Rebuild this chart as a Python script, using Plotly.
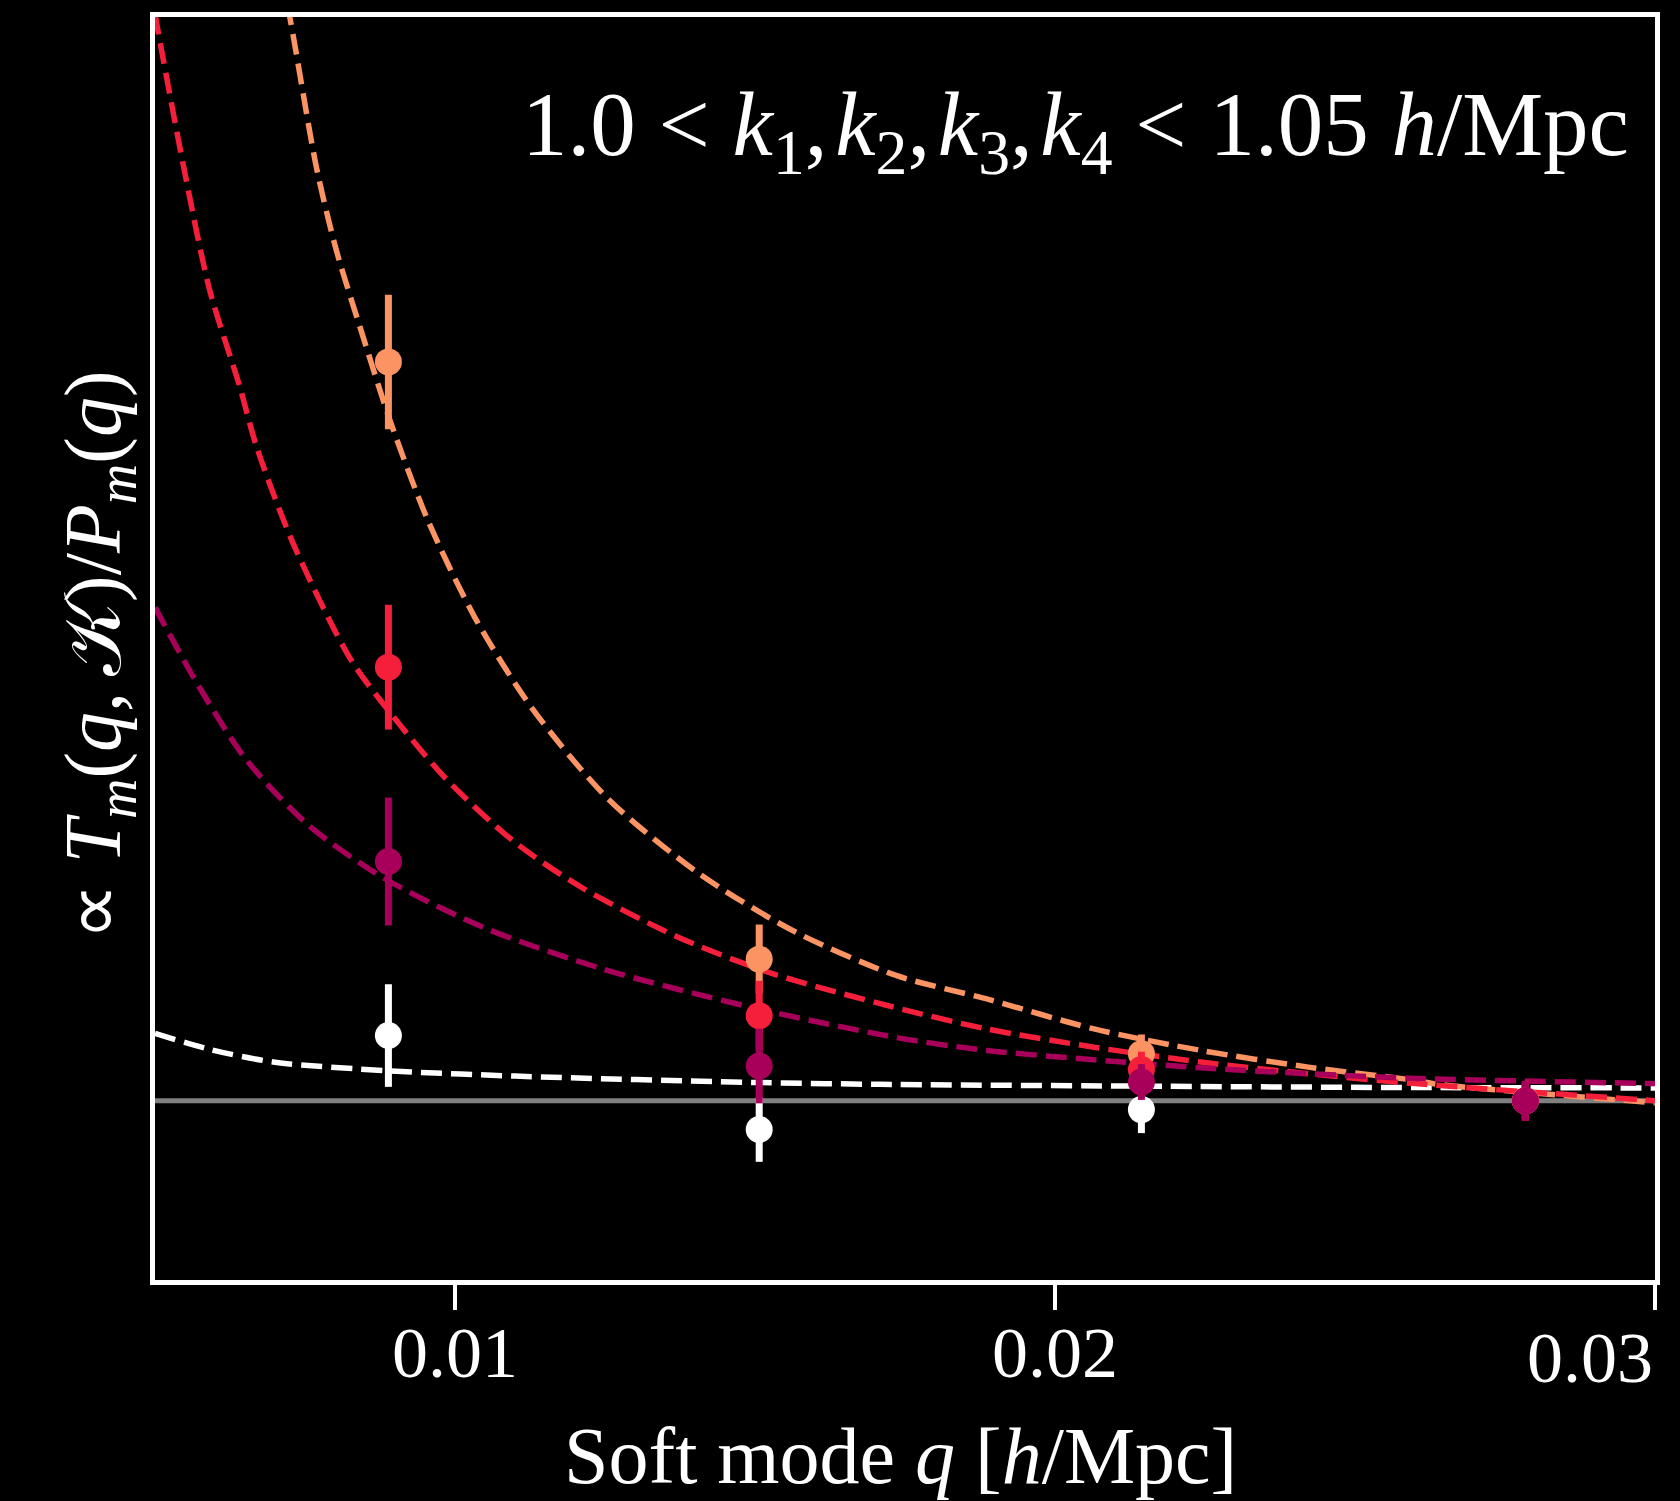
import plotly.graph_objects as go

# ---------------------------------------------------------------
# Soft-mode bin centres [h/Mpc]
q_bins = [0.00889, 0.01507, 0.02144, 0.02784]

# Measured ratios (arbitrary normalisation) with 1-sigma errors
white_y = [1.363, 0.839, 0.950, 1.000]
white_err = [0.286, 0.180, 0.131, 0.100]

orange_y = [5.119, 1.789, 1.262, 1.000]
orange_err = [0.375, 0.193, 0.107, 0.110]

red_y = [3.417, 1.474, 1.173, 1.000]
red_err = [0.348, 0.194, 0.100, 0.110]

purple_y = [2.333, 1.193, 1.104, 0.998]
purple_err = [0.357, 0.208, 0.100, 0.111]

# Model predictions sampled along q
orange_model_q = [0.007089, 0.007245, 0.007689, 0.008021, 0.008466, 0.008911,
                  0.009536, 0.010334, 0.011291, 0.012566, 0.014080, 0.015675,
                  0.017352, 0.018863, 0.020650, 0.022434, 0.024221, 0.026005,
                  0.026411, 0.030000]
orange_model_y = [7.274, 7.043, 6.206, 5.743, 5.261, 4.798,
                  4.245, 3.692, 3.185, 2.678, 2.263, 1.940,
                  1.698, 1.567, 1.400, 1.280, 1.187, 1.113,
                  1.090, 0.988]

red_model_q = [0.005000, 0.005050, 0.005466, 0.005911, 0.006411, 0.006689,
               0.007302, 0.008261, 0.008977, 0.009855, 0.010971, 0.012088,
               0.013682, 0.015277, 0.017271, 0.018863, 0.020650, 0.022434,
               0.024221, 0.026005, 0.030000]
red_model_y = [7.060, 6.965, 6.226, 5.520, 4.983, 4.650,
               4.107, 3.461, 3.139, 2.793, 2.448, 2.193,
               1.917, 1.710, 1.525, 1.400, 1.298, 1.215,
               1.150, 1.095, 1.000]

purple_model_q = [0.005000, 0.005707, 0.006505, 0.007543, 0.008818, 0.010493,
                  0.012486, 0.014879, 0.017352, 0.018863, 0.020650, 0.022434,
                  0.024221, 0.026005, 0.030000]
purple_model_y = [3.750, 3.323, 2.908, 2.540, 2.240, 1.963,
                  1.732, 1.525, 1.352, 1.280, 1.228, 1.183,
                  1.150, 1.124, 1.095]

white_model_q = [0.005000, 0.005946, 0.007000, 0.008875, 0.011000, 0.015054,
                 0.017077, 0.021839, 0.026005, 0.030000]
white_model_y = [1.375, 1.283, 1.214, 1.167, 1.137, 1.101,
                 1.091, 1.080, 1.073, 1.071]

reference_level = 1.0

x_ticks = [0.01, 0.02, 0.03]
x_tick_text = ["0.01", "0.02", "0.03"]

# ---------------------------------------------------------------
WHITE = "#ffffff"
ORANGE = "#fb9462"
RED = "#f61f3b"
PURPLE = "#a8005a"
GREY = "#808080"

DASH = "21px,9px"
SERIF = "Liberation Serif"
TICK_SIZE = 72

fig = go.Figure()

fig.add_hline(y=reference_level, line=dict(color=GREY, width=5), layer="below")

for mq, my, col in [(white_model_q, white_model_y, WHITE),
                    (orange_model_q, orange_model_y, ORANGE),
                    (red_model_q, red_model_y, RED),
                    (purple_model_q, purple_model_y, PURPLE)]:
    fig.add_trace(go.Scatter(
        x=mq, y=my, mode="lines",
        line=dict(color=col, width=5.5, dash=DASH, shape="spline", smoothing=0.8),
        hoverinfo="skip", showlegend=False,
    ))

for yy, ee, col in [(white_y, white_err, WHITE),
                    (orange_y, orange_err, ORANGE),
                    (red_y, red_err, RED),
                    (purple_y, purple_err, PURPLE)]:
    fig.add_trace(go.Scatter(
        x=q_bins, y=yy, mode="markers",
        marker=dict(color=col, size=27, line=dict(width=0)),
        error_y=dict(type="data", array=ee, visible=True,
                     color=col, thickness=7, width=0),
        showlegend=False,
    ))

# The last tick label sits flush with the right frame edge
axis_labels = list(x_tick_text[:-1]) + [""]

fig.update_layout(
    width=1680, height=1501,
    margin=dict(l=155, r=25, t=13, b=221),
    paper_bgcolor="black", plot_bgcolor="black",
    font=dict(family=SERIF, color="white"),
    xaxis=dict(
        range=[0.005, 0.03],
        tickvals=x_ticks, ticktext=axis_labels,
        ticks="outside", ticklen=25, tickwidth=4, tickcolor="white",
        ticklabelstandoff=-19,
        tickfont=dict(family=SERIF, size=TICK_SIZE, color="white"),
        showline=True, linewidth=5, linecolor="white", mirror=True,
        showgrid=False, zeroline=False,
    ),
    yaxis=dict(
        range=[0, 7.042],
        showticklabels=False, ticks="",
        showline=True, linewidth=5, linecolor="white", mirror=True,
        showgrid=False, zeroline=False,
    ),
    annotations=[
        dict(text=x_tick_text[-1], xref="x", yref="paper",
             x=x_ticks[-1], y=-0.062, xanchor="right", yanchor="middle",
             showarrow=False,
             font=dict(family=SERIF, size=TICK_SIZE, color="white")),
        dict(text="Soft mode <i>q</i> [<i>h</i>/Mpc]",
             xref="paper", yref="paper", x=0.497, y=-0.1397,
             xanchor="center", yanchor="middle", showarrow=False,
             font=dict(family=SERIF, size=80, color="white")),
        dict(text="∝ <i>T</i><sub><i>m</i></sub>(<i>q</i>,\u2009𝒦)/<i>P</i><sub><i>m</i></sub>(<i>q</i>)",
             xref="paper", yref="paper", x=-0.0373, y=0.4945,
             xanchor="center", yanchor="middle", textangle=-90, showarrow=False,
             font=dict(family=SERIF, size=80, color="white")),
        dict(text="1.0 &lt; <i>k</i><sub>1</sub>,\u200a<i>k</i><sub>2</sub>,\u200a<i>k</i><sub>3</sub>,\u200a"
                  "<i>k</i><sub>4</sub> &lt; 1.05 <i>h</i>/Mpc",
             xref="paper", yref="paper", x=0.984, y=0.910,
             xanchor="right", yanchor="middle", showarrow=False,
             font=dict(family=SERIF, size=91, color="white")),
    ],
)

fig.write_html("out.html")
